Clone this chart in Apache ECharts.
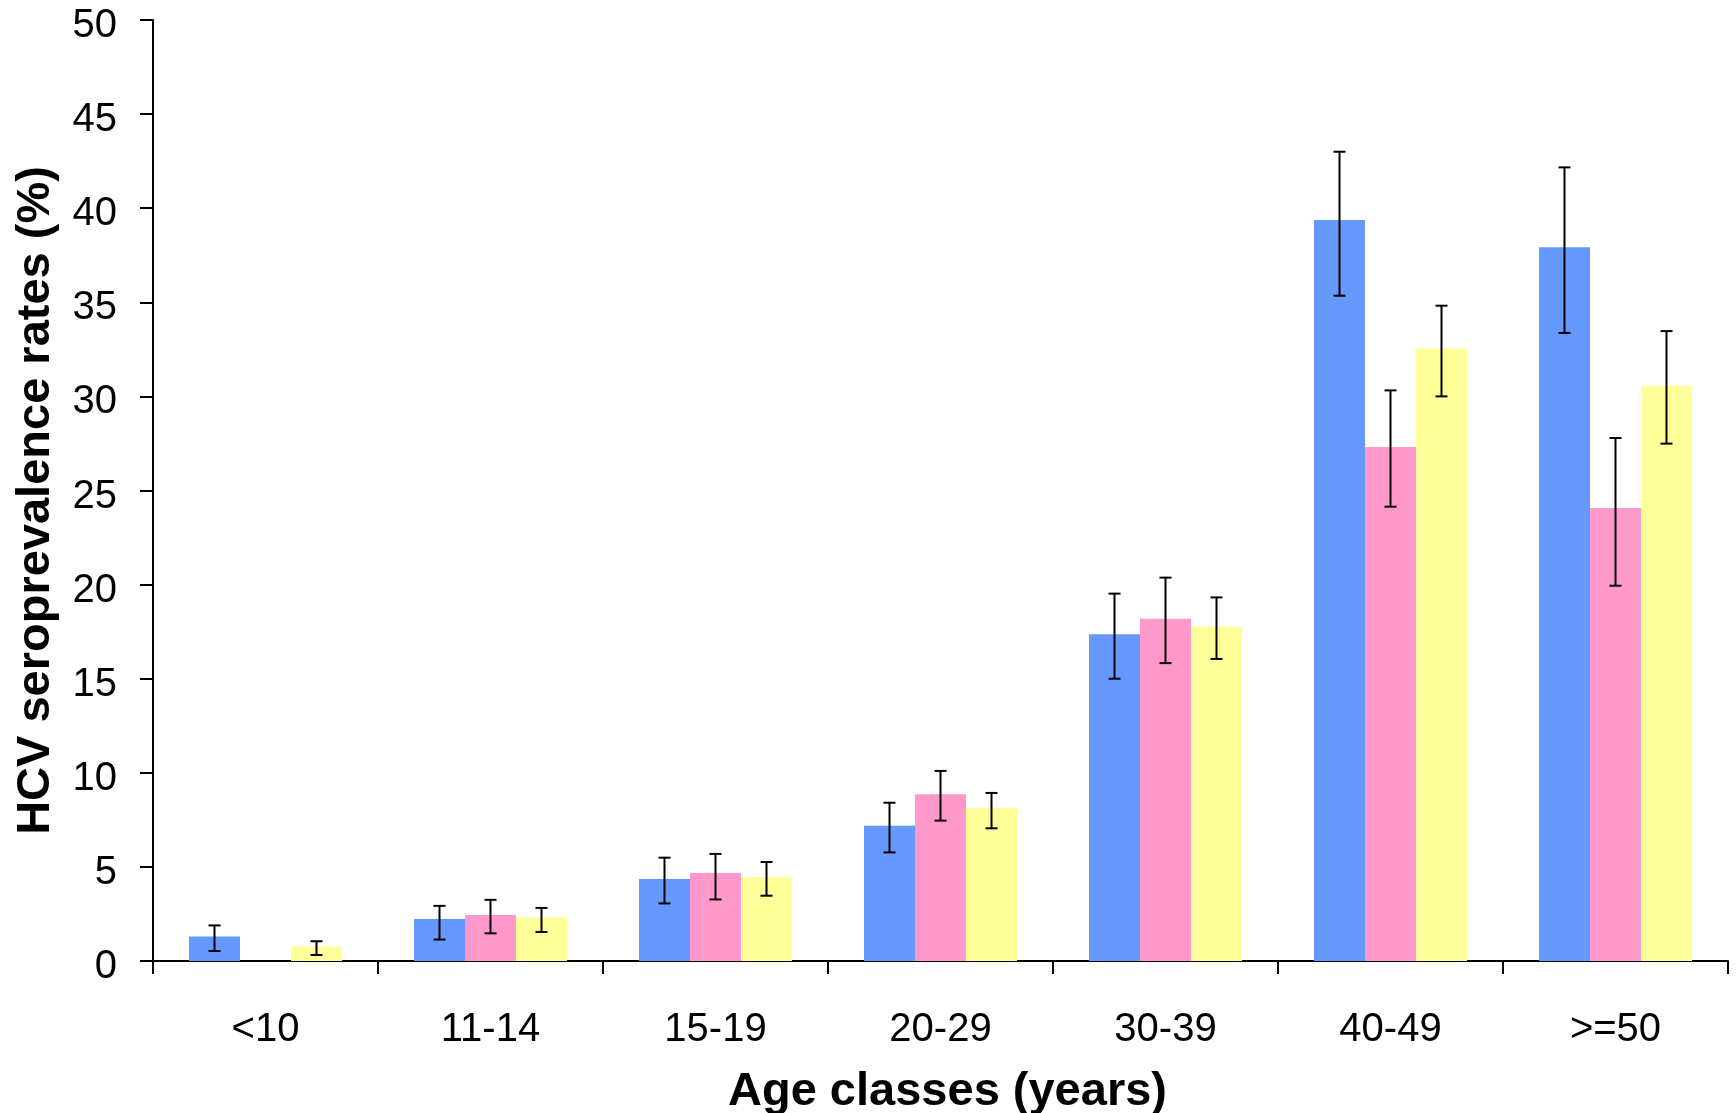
<!DOCTYPE html>
<html>
<head>
<meta charset="utf-8">
<script src="https://cdn.jsdelivr.net/npm/echarts@6/dist/echarts.min.js"></script>
<style>
  html, body { margin: 0; padding: 0; background: #ffffff; }
  #chart { width: 1736px; height: 1113px; }
</style>
</head>
<body>
<div id="chart"></div>
<script>
const categories = ['<10', '11-14', '15-19', '20-29', '30-39', '40-49', '>=50'];
const yTicks = [0, 5, 10, 15, 20, 25, 30, 35, 40, 45, 50];

const blueValues   = [1.30, 2.23, 4.36, 7.19, 17.36, 39.37, 37.92];
const blueLow      = [0.53, 1.14, 3.06, 5.77, 15.00, 35.35, 33.37];
const blueHigh     = [1.89, 2.93, 5.49, 8.41, 19.52, 43.00, 42.17];

const pinkValues   = [null, 2.44, 4.68, 8.86, 18.19, 27.31, 24.07];
const pinkLow      = [null, 1.47, 3.27, 7.46, 15.83, 24.14, 19.94];
const pinkHigh     = [null, 3.25, 5.69, 10.10, 20.37, 30.32, 27.79];

const yellowValues = [0.77, 2.33, 4.46, 8.13, 17.78, 32.55, 30.57];
const yellowLow    = [0.32, 1.54, 3.47, 7.05, 16.05, 30.00, 27.49];
const yellowHigh   = [1.05, 2.82, 5.26, 8.93, 19.32, 34.82, 33.47];

const colors = ['#6699FF', '#FF99CC', '#FFFF99'];
const FONT = 'Liberation Sans, Arial, sans-serif';
const CAT_GAP = 0.32;
const N_SERIES = 3;

function errData(low, high) {
  const out = [];
  for (let i = 0; i < low.length; i++) {
    if (low[i] != null && high[i] != null) out.push([i, low[i], high[i]]);
  }
  return out;
}

function makeErr(seriesIdx) {
  return function (params, api) {
    const x = api.value(0);
    const lo = api.coord([x, api.value(1)]);
    const hi = api.coord([x, api.value(2)]);
    const band = api.size([1, 0])[0];
    const bw = band * (1 - CAT_GAP) / N_SERIES;
    const cx = lo[0] + (seriesIdx - (N_SERIES - 1) / 2) * bw;
    const cap = 6;
    const style = { stroke: '#000', lineWidth: 2 };
    return {
      type: 'group',
      children: [
        { type: 'line', shape: { x1: cx, y1: hi[1], x2: cx, y2: lo[1] }, style: style },
        { type: 'line', shape: { x1: cx - cap, y1: hi[1], x2: cx + cap, y2: hi[1] }, style: style },
        { type: 'line', shape: { x1: cx - cap, y1: lo[1], x2: cx + cap, y2: lo[1] }, style: style }
      ]
    };
  };
}

const chart = echarts.init(document.getElementById('chart'), null, { renderer: 'canvas' });

const barSeries = [blueValues, pinkValues, yellowValues].map((vals, i) => ({
  type: 'bar',
  data: vals,
  barGap: '0%',
  barCategoryGap: (CAT_GAP * 100) + '%',
  itemStyle: { color: colors[i] },
  silent: true,
  z: 2
}));

const errSeries = [[blueLow, blueHigh], [pinkLow, pinkHigh], [yellowLow, yellowHigh]].map((lh, i) => ({
  type: 'custom',
  renderItem: makeErr(i),
  data: errData(lh[0], lh[1]),
  encode: { x: 0, y: [1, 2] },
  silent: true,
  z: 5
}));

chart.setOption({
  animation: false,
  backgroundColor: '#ffffff',
  grid: { left: 153, right: 8, top: 20, bottom: 152, containLabel: false, outerBoundsMode: 'none' },
  xAxis: {
    type: 'category',
    data: categories,
    name: 'Age classes (years)',
    nameLocation: 'middle',
    nameGap: 108,
    nameTextStyle: { fontFamily: FONT, fontSize: 47, fontWeight: 'bold', color: '#000', padding: [0, 0, 0, 14] },
    axisLine: { show: true, lineStyle: { color: '#000', width: 2 } },
    axisTick: { show: true, interval: 0, alignWithLabel: false, length: 13, lineStyle: { color: '#000', width: 2 } },
    axisLabel: { interval: 0, margin: 49, fontFamily: FONT, fontSize: 40, color: '#000' },
    splitLine: { show: false }
  },
  yAxis: {
    type: 'value',
    min: yTicks[0],
    max: yTicks[yTicks.length - 1],
    interval: yTicks[1] - yTicks[0],
    name: 'HCV seroprevalence rates (%)',
    nameLocation: 'middle',
    nameGap: 93,
    nameTextStyle: { fontFamily: FONT, fontSize: 47, fontWeight: 'bold', color: '#000', padding: [0, 20, 0, 0] },
    axisLine: { show: true, lineStyle: { color: '#000', width: 2 } },
    axisTick: { show: true, length: 13, lineStyle: { color: '#000', width: 2 } },
    axisLabel: {
      margin: 36,
      formatter: '{v|{value}}',
      rich: { v: { fontFamily: FONT, fontSize: 40, color: '#000', padding: [12, 0, 0, 0] } }
    },
    splitLine: { show: false }
  },
  series: barSeries.concat(errSeries)
});
</script>
</body>
</html>
